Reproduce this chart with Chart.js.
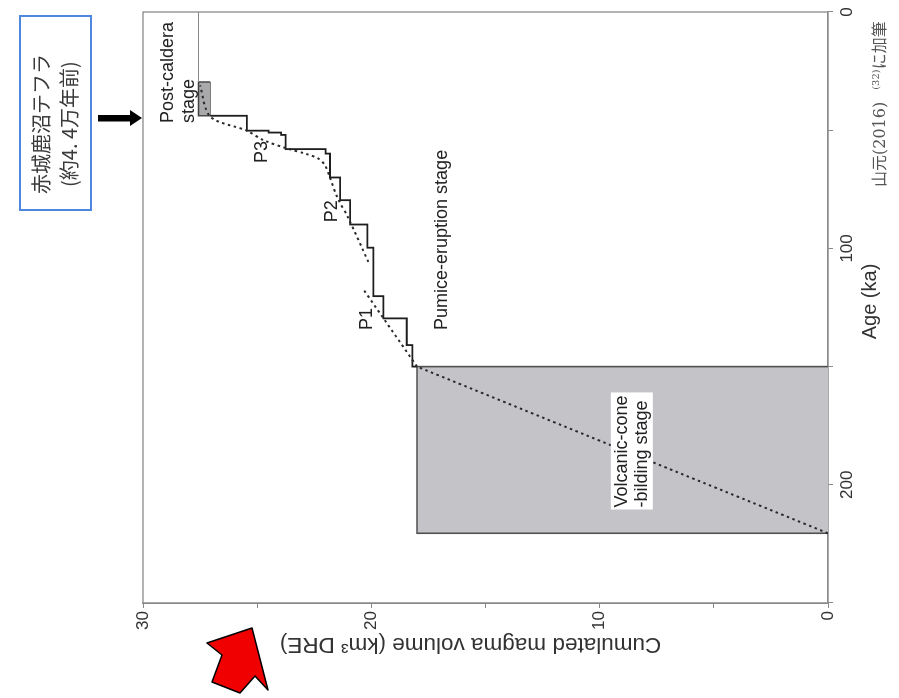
<!DOCTYPE html>
<html>
<head>
<meta charset="UTF-8">
<title>Cumulated magma volume</title>
<script src="https://cdn.jsdelivr.net/npm/chart.js@4.4.0/dist/chart.umd.min.js"></script>
<style>
  body { margin: 0; width: 899px; height: 698px; overflow: hidden; position: relative; background: #fff; }
  /* the whole figure is drawn upright and then turned a quarter to the left */
  #turn { position: absolute; left: 0; top: 0; width: 698px; height: 899px; transform-origin: 0 0; transform: translate(0, 698px) rotate(-90deg); }
  #chart { position: absolute; left: 0; top: 0; }
  .tephra { position: absolute; left: 487px; top: 19px; width: 192px; height: 63px; border: 2px solid #4f86de; background: #fff;
            font-family: "Noto Sans CJK JP", sans-serif; font-size: 20px; line-height: 28px; color: #3a3a3a; text-align: center; padding-top: 6px; box-sizing: content-box; }
  .tephra div { margin-left: -22px; }
  .credit { position: absolute; left: 511px; top: 866px; font-family: "DejaVu Serif", "Noto Sans CJK JP", serif; font-size: 16px; color: #555; white-space: nowrap; }
  .credit sup { font-size: 10px; margin-left: 12px; }
  #arrows { position: absolute; left: 0; top: 0; }
</style>
</head>
<body>
<div id="turn">
  <canvas id="chart" width="698" height="899"></canvas>
  <div class="tephra"><div>赤城鹿沼テフラ</div><div>(約4. 4万年前)</div></div>
  <div class="credit">山元(2016)<sup>(32)</sup>に加筆</div>
</div>
<svg id="arrows" width="899" height="698">
  <polygon points="98,115 130,115 130,110 142,118 130,126 130,121.5 98,121.5" fill="#000"/>
  <polygon points="252,628 207,643 222,655 212,682 240,693 255,676 268,690" fill="#f00000" stroke="#000" stroke-width="1.5" stroke-linejoin="round"/>
</svg>

<script>
// eruption steps: age (ka) and cumulated volume (km3 DRE) after each eruption
const stepAges    = [150, 150, 140.9, 129.6, 120.2, 99.7, 89.9, 79.6, 70.0, 59.9, 58.0, 52.0, 51.0, 50.2, 43.9];
const stepVolumes = [18.0, 18.2, 18.45, 19.47, 19.91, 20.17, 20.93, 21.37, 21.81, 22.0, 23.75, 23.95, 24.5, 25.45, 27.06];

// stage blocks
const coneAges = [150, 150, 220.5, 220.5];
const coneVolumes = [0, 18, 18, 0];
const postAges = [43.9, 43.9, 29.6, 29.6];
const postVolumes = [27.06, 27.57, 27.57, 27.06];
const postBaseAges = [43.9, 29.6];
const postBaseVolumes = [27.06, 27.06];
const lastAges = [29.6, 0];
const lastVolumes = [27.57, 27.57];

// dotted trends
const coneTrendAges = [220.5, 150];
const coneTrendVolumes = [0, 18];
const p1TrendAges = [150, 116.9];
const p1TrendVolumes = [18, 20.38];
const p2TrendAges = [105.7, 87.3, 78.2, 70.4, 64.8, 62.0, 60.1, 57.7, 54.2, 50.2, 44.2, 31.0];
const p2TrendVolumes = [20.13, 21.0, 21.5, 21.8, 22.03, 22.32, 22.83, 23.7, 24.73, 25.45, 27.06, 27.5];

// axes
const ageMax = 250;
const volMax = 30;
const ageTitle = 'Age (ka)';
const volTitle = 'Cumulated magma volume (km³ DRE)';

// text inside the plot, anchored at (age, volume) of the first line
const stageLabels = [
  { lines: ['Post-caldera', 'stage'], age: 47, vol: 28.9 },
  { lines: ['P3'], age: 63.9, vol: 24.8 },
  { lines: ['P2'], age: 88.9, vol: 21.74 },
  { lines: ['P1'], age: 134.5, vol: 20.2 },
  { lines: ['Pumice-eruption stage'], age: 134.5, vol: 16.9 },
  { lines: ['Volcanic-cone', '-bilding stage'], age: 209.6, vol: 9.03, boxed: true }
];

function pts(xs, ys) {
  return xs.map((x, i) => ({ x: x, y: ys[i] }));
}

Chart.defaults.font.family = "'Liberation Sans', Arial, sans-serif";

const frame = {
  id: 'frame',
  beforeDatasetsDraw(chart) {
    const a = chart.chartArea, ctx = chart.ctx;
    ctx.save();
    ctx.strokeStyle = '#8a8a8a';
    ctx.lineWidth = 1.3;
    ctx.strokeRect(a.left, a.top, a.right - a.left, a.bottom - a.top);
    ctx.restore();
  }
};

// axis titles sit a little off-centre in the original, so they are placed by hand
const titles = {
  id: 'titles',
  afterDraw(chart) {
    const ctx = chart.ctx, a = chart.chartArea;
    ctx.save();
    ctx.fillStyle = '#333';
    ctx.textAlign = 'center';
    ctx.textBaseline = 'middle';
    ctx.font = "20px 'Liberation Sans', Arial, sans-serif";
    ctx.fillText(ageTitle, (a.left + a.right) / 2 + 6, a.bottom + 42);
    ctx.translate(54, (a.top + a.bottom) / 2 - 15);
    ctx.rotate(-Math.PI / 2);
    ctx.font = "22.5px 'Liberation Sans', Arial, sans-serif";
    ctx.fillText(volTitle, 0, 0);
    ctx.restore();
  }
};

const labels = {
  id: 'labels',
  afterDatasetsDraw(chart) {
    const ctx = chart.ctx, xs = chart.scales.x, ys = chart.scales.y;
    ctx.save();
    ctx.font = "18px 'Liberation Sans', Arial, sans-serif";
    ctx.textAlign = 'left';
    ctx.textBaseline = 'middle';
    stageLabels.forEach(l => {
      const x = xs.getPixelForValue(l.age);
      const y = ys.getPixelForValue(l.vol);
      if (l.boxed) {
        const w = Math.max(...l.lines.map(t => ctx.measureText(t).width));
        ctx.fillStyle = '#fff';
        ctx.fillRect(x - 2, y - 11, w + 5, l.lines.length * 20 + 2);
      }
      ctx.fillStyle = '#222';
      l.lines.forEach((t, i) => ctx.fillText(t, x, y + i * 20.5));
    });
    ctx.restore();
  }
};

new Chart(document.getElementById('chart'), {
  type: 'scatter',
  data: {
    datasets: [
      { data: pts(coneAges, coneVolumes), showLine: true, fill: 'origin', backgroundColor: '#c4c4c8', borderColor: '#505050', borderWidth: 1.6, pointRadius: 0, order: 10 },
      { data: pts(postAges, postVolumes), showLine: true, fill: { value: 27.06 }, backgroundColor: '#a9a9ab', borderColor: '#404040', borderWidth: 1.4, pointRadius: 0, order: 9 },
      { data: pts(postBaseAges, postBaseVolumes), showLine: true, borderColor: '#404040', borderWidth: 1.4, pointRadius: 0, order: 9 },
      { data: pts(lastAges, lastVolumes), showLine: true, borderColor: '#8a8a8a', borderWidth: 1.2, pointRadius: 0, order: 8 },
      { data: pts(stepAges, stepVolumes), showLine: true, stepped: 'before', borderColor: '#1e1e1e', borderWidth: 1.8, pointRadius: 0, order: 2 },
      { data: pts(coneTrendAges, coneTrendVolumes), showLine: true, borderDash: [2.5, 3.5], borderColor: '#2a2a2a', borderWidth: 2, pointRadius: 0, order: 1 },
      { data: pts(p1TrendAges, p1TrendVolumes), showLine: true, borderDash: [2.5, 3.5], borderColor: '#2a2a2a', borderWidth: 2, pointRadius: 0, order: 1 },
      { data: pts(p2TrendAges, p2TrendVolumes), showLine: true, tension: 0.3, borderDash: [2.5, 3.5], borderColor: '#2a2a2a', borderWidth: 2, pointRadius: 0, order: 1 }
    ]
  },
  options: {
    responsive: false,
    animation: false,
    layout: { padding: { left: 0, right: 12, top: 143, bottom: 0 } },
    plugins: { legend: { display: false }, tooltip: { enabled: false } },
    scales: {
      x: {
        type: 'linear', reverse: true, min: 0, max: ageMax,
        afterFit(s) { s.height = 71; },
        border: { color: '#8a8a8a', width: 1.3 },
        grid: { drawOnChartArea: false, tickLength: 5, color: '#8a8a8a' },
        ticks: { stepSize: 50, autoSkip: false, maxRotation: 0, padding: 4, color: '#333', font: { size: 17 },
                 callback: v => (v % 100 === 0 ? v : '') }
      },
      y: {
        type: 'linear', min: 0, max: volMax,
        afterFit(s) { s.width = 95; },
        border: { color: '#8a8a8a', width: 1.3 },
        grid: { drawOnChartArea: false, tickLength: 5, color: '#8a8a8a' },
        ticks: { stepSize: 5, autoSkip: false, padding: 3, color: '#333', font: { size: 17 },
                 callback: v => (v % 10 === 0 ? v : '') }
      }
    }
  },
  plugins: [frame, labels, titles]
});
</script>
</body>
</html>
